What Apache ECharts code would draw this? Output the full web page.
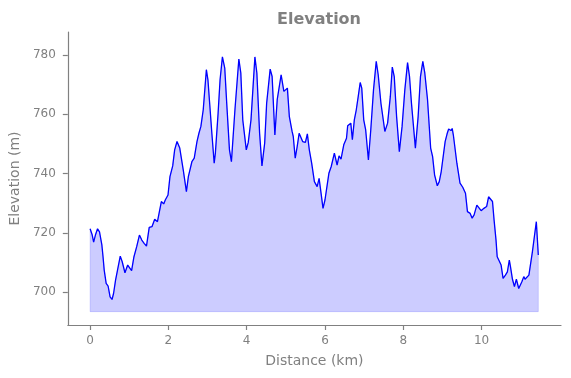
<!DOCTYPE html>
<html>
<head>
<meta charset="utf-8">
<title>Elevation</title>
<script src="https://cdn.jsdelivr.net/npm/echarts@6/dist/echarts.min.js"></script>
<style>
  html, body { margin: 0; padding: 0; background: #fff; }
  #chart { width: 571px; height: 378px; }
</style>
</head>
<body>
<div id="chart"></div>
<script>
// profile: distance along the track (km) and elevation (m)
var distanceKm = [
  0.00, 0.05, 0.09, 0.14, 0.19, 0.24, 0.30, 0.33, 0.36, 0.41, 0.46, 0.51, 0.56, 0.60, 0.65, 0.70,
  0.77, 0.82, 0.89, 0.96, 1.00, 1.06, 1.12, 1.19, 1.26, 1.32, 1.38, 1.44, 1.51, 1.58, 1.65, 1.72,
  1.77, 1.82, 1.88, 1.92, 1.99, 2.04, 2.11, 2.16, 2.22, 2.29, 2.38, 2.46, 2.51, 2.60, 2.66, 2.73,
  2.78, 2.83, 2.89, 2.97, 3.01, 3.06, 3.11, 3.17, 3.20, 3.27, 3.32, 3.38, 3.44, 3.49, 3.56, 3.61,
  3.70, 3.80, 3.85, 3.90, 3.99, 4.04, 4.11, 4.21, 4.26, 4.33, 4.39, 4.46, 4.51, 4.60, 4.65, 4.72,
  4.78, 4.88, 4.95, 5.00, 5.04, 5.09, 5.16, 5.19, 5.24, 5.29, 5.34, 5.43, 5.50, 5.55, 5.60, 5.66,
  5.73, 5.80, 5.85, 5.90, 5.95, 6.00, 6.05, 6.10, 6.16, 6.19, 6.24, 6.31, 6.36, 6.41, 6.48, 6.55,
  6.58, 6.63, 6.66, 6.70, 6.75, 6.80, 6.85, 6.90, 6.94, 6.99, 7.04, 7.11, 7.17, 7.24, 7.31, 7.36,
  7.43, 7.53, 7.60, 7.67, 7.72, 7.77, 7.83, 7.90, 7.97, 8.04, 8.11, 8.16, 8.21, 8.24, 8.31, 8.38,
  8.44, 8.50, 8.55, 8.62, 8.70, 8.75, 8.80, 8.87, 8.92, 8.97, 9.02, 9.07, 9.12, 9.16, 9.22, 9.25,
  9.28, 9.37, 9.40, 9.45, 9.52, 9.59, 9.64, 9.71, 9.76, 9.81, 9.88, 9.93, 9.99, 10.06, 10.13, 10.18,
  10.23, 10.28, 10.32, 10.37, 10.40, 10.44, 10.47, 10.50, 10.55, 10.61, 10.66, 10.71, 10.74, 10.79, 10.84, 10.89,
  10.95, 10.98, 11.03, 11.08, 11.11, 11.16, 11.21, 11.26, 11.30, 11.35, 11.40, 11.45
];
var elevationM = [
  721.4, 719.5, 716.9, 719.5, 721.4, 720.4, 716.0, 712.0, 707.5, 703.0, 702.1, 698.5, 697.6, 699.7, 704.1, 707.5,
  712.2, 710.3, 706.6, 709.2, 709.5, 707.3, 712.0, 715.4, 719.3, 717.6, 716.5, 715.6, 721.9, 722.1, 724.6, 723.8,
  724.4, 730.6, 729.8, 731.1, 732.8, 739.0, 742.6, 748.0, 750.8, 748.6, 741.2, 733.9, 739.0, 744.0, 745.2, 750.8,
  753.6, 755.9, 761.5, 775.0, 771.6, 762.6, 753.6, 743.5, 746.9, 760.4, 771.6, 779.3, 775.5, 763.7, 748.0, 744.0,
  761.5, 778.6, 773.9, 758.1, 748.0, 750.5, 758.1, 779.3, 773.9, 753.6, 742.6, 750.3, 763.7, 775.2, 772.7, 753.0,
  764.9, 773.3, 767.7, 767.7, 768.8, 759.2, 754.2, 752.5, 745.2, 749.1, 753.6, 750.8, 750.5, 753.4, 748.0, 743.5,
  737.3, 735.6, 738.4, 733.4, 728.3, 731.1, 731.4, 740.1, 742.4, 742.9, 746.9, 742.9, 746.0, 744.9, 749.7, 751.9,
  756.1, 756.4, 757.0, 751.4, 758.1, 761.5, 766.0, 770.7, 768.8, 758.1, 754.7, 744.6, 754.7, 768.2, 777.8, 773.3,
  763.7, 754.2, 757.0, 766.0, 775.9, 772.7, 759.2, 747.4, 755.9, 768.2, 777.4, 772.7, 763.7, 763.5, 748.6, 759.2,
  772.7, 777.8, 773.9, 764.9, 748.6, 745.7, 739.6, 735.9, 737.3, 740.7, 741.2, 750.8, 753.4, 755.0, 754.5, 755.2,
  753.0, 743.5, 743.5, 736.8, 735.4, 733.4, 727.2, 726.6, 725.0, 726.1, 729.4, 730.0, 727.5, 728.3, 728.9, 732.2,
  732.2, 730.6, 724.4, 717.6, 712.0, 710.9, 711.1, 709.2, 704.7, 705.8, 706.9, 710.9, 708.6, 704.4, 701.9, 704.4,
  701.3, 701.9, 703.6, 705.3, 704.4, 704.7, 705.8, 705.5, 713.7, 718.8, 723.8, 712.6
];
var fillBase = 693.5;
var xTicks = [0, 2, 4, 6, 8, 10];
var yTicks = [700, 720, 740, 760, 780];

var profile = distanceKm.map(function (d, i) { return [d, elevationM[i]]; });
var first = distanceKm[0], last = distanceKm[distanceKm.length - 1];
var outline = [[first, fillBase]].concat(profile, [[last, fillBase], [first, fillBase]]);

var grey = '#808080';
var font = 'DejaVu Sans';

var myChart = echarts.init(document.getElementById('chart'), null, { renderer: 'canvas' });
myChart.setOption({
  animation: false,
  title: {
    text: 'Elevation',
    left: 314,
    top: 7,
    textAlign: 'center',
    textStyle: { color: grey, fontFamily: font, fontSize: 16, fontWeight: 'bold' }
  },
  grid: { left: 67, right: 10, top: 32, bottom: 53 },
  xAxis: {
    type: 'value',
    min: -0.57,
    max: 12.03,
    name: 'Distance (km)',
    nameLocation: 'middle',
    nameGap: 29,
    nameTextStyle: { color: grey, fontFamily: font, fontSize: 14 },
    axisLine: { onZero: false, lineStyle: { color: grey, width: 1.2 } },
    axisTick: { customValues: xTicks, length: 5, lineStyle: { color: grey, width: 1.2 } },
    axisLabel: { customValues: xTicks, margin: 10, color: grey, fontFamily: font, fontSize: 12 },
    splitLine: { show: false }
  },
  yAxis: {
    type: 'value',
    min: 689.0,
    max: 787.7,
    name: 'Elevation (m)',
    nameLocation: 'middle',
    nameGap: 41,
    nameTextStyle: { color: grey, fontFamily: font, fontSize: 14 },
    axisLine: { show: true, onZero: false, lineStyle: { color: grey, width: 1.2 } },
    axisTick: { show: true, customValues: yTicks, length: 5, lineStyle: { color: grey, width: 1.2 } },
    axisLabel: { customValues: yTicks, margin: 12, color: grey, fontFamily: font, fontSize: 12 },
    splitLine: { show: false }
  },
  series: [
    {
      type: 'line',
      data: profile,
      showSymbol: false,
      silent: true,
      lineStyle: { width: 0 },
      areaStyle: { color: 'rgba(0,0,255,0.2)', opacity: 1, origin: fillBase },
      z: 1
    },
    {
      type: 'line',
      data: outline,
      showSymbol: false,
      silent: true,
      lineStyle: { color: 'rgba(0,0,255,0.15)', width: 1 },
      z: 2
    },
    {
      type: 'line',
      data: profile,
      showSymbol: false,
      silent: true,
      lineStyle: { color: '#0000ff', width: 1.3 },
      z: 3
    }
  ]
});
</script>
</body>
</html>
